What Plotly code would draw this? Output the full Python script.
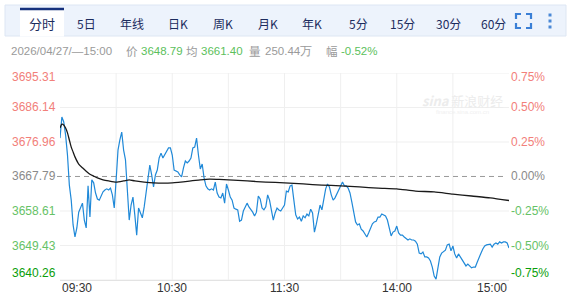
import plotly.graph_objects as go

# ---------------- data ----------------
prev_close = 3667.79
minutes = list(range(241))
price = [
    3678.0, 3683.6, 3682.3, 3678.8, 3673.5, 3665.5, 3661.5, 3654.9, 3651.7, 3654.1,
    3658.3, 3659.7, 3660.7, 3656.2, 3654.1, 3665.3, 3657.0, 3666.9, 3666.1, 3663.4,
    3661.8, 3661.5, 3662.6, 3663.7, 3664.2, 3664.5, 3664.2, 3664.7, 3662.9, 3659.4,
    3666.9, 3674.8, 3677.5, 3679.6, 3674.8, 3672.2, 3664.2, 3656.2, 3660.2, 3662.3,
    3657.5, 3652.2, 3659.4, 3658.3, 3656.8, 3659.7, 3663.4, 3668.2, 3670.8, 3668.2,
    3665.0, 3668.2, 3669.5, 3672.7, 3674.0, 3672.7, 3673.5, 3674.3, 3675.4, 3675.4,
    3673.5, 3669.5, 3669.2, 3669.0, 3668.2, 3667.7, 3670.1, 3671.9, 3671.4, 3671.9,
    3672.7, 3675.4, 3675.6, 3678.0, 3673.5, 3669.8, 3671.1, 3667.4, 3665.3, 3664.5,
    3664.2, 3664.5, 3664.2, 3666.3, 3663.4, 3662.3, 3662.1, 3663.4, 3660.7, 3665.8,
    3664.2, 3662.3, 3661.5, 3659.4, 3659.1, 3658.9, 3655.9, 3656.2, 3658.6, 3659.9,
    3660.7, 3659.7, 3659.1, 3658.3, 3657.3, 3658.3, 3662.6, 3661.8, 3659.4, 3658.9,
    3659.7, 3662.9, 3661.5, 3658.6, 3656.2, 3658.1, 3659.4, 3658.9, 3658.6, 3659.4,
    3660.2, 3663.9, 3663.7, 3665.3, 3665.5, 3661.5, 3657.6, 3656.5, 3657.0, 3655.9,
    3657.3, 3656.8, 3657.8, 3657.3, 3659.1, 3658.1, 3653.0, 3655.1, 3658.3, 3660.2,
    3658.9, 3662.1, 3664.5, 3665.8, 3665.0, 3662.9, 3661.5, 3662.1, 3663.1, 3664.2,
    3665.3, 3666.3, 3665.3, 3665.3, 3664.7, 3663.4, 3661.0, 3658.6, 3655.7, 3654.9,
    3655.2, 3653.8, 3653.3, 3652.5, 3651.7, 3652.8, 3653.8, 3655.2, 3655.7, 3655.9,
    3657.0, 3657.0, 3657.8, 3657.6, 3657.3, 3656.2, 3653.6, 3652.0, 3653.0, 3653.3,
    3654.6, 3652.8, 3652.2, 3652.2, 3651.7, 3651.2, 3650.9, 3651.2, 3650.9, 3650.9,
    3650.6, 3649.8, 3647.4, 3647.2, 3647.7, 3646.4, 3646.4, 3646.1, 3645.3, 3643.7,
    3641.3, 3640.5, 3644.0, 3646.4, 3647.4, 3647.7, 3648.2, 3649.6, 3649.8, 3648.0,
    3649.3, 3647.2, 3646.1, 3647.2, 3646.4, 3645.6, 3644.8, 3644.0, 3644.5, 3644.0,
    3643.5, 3643.7, 3643.7, 3645.0, 3646.4, 3647.4, 3648.5, 3649.3, 3649.6, 3649.8,
    3649.8, 3649.0, 3649.8, 3650.1, 3649.8, 3650.4, 3650.1, 3650.4, 3650.4, 3650.1,
    3648.79,
]
avg_minutes = [0, 1, 2, 3, 4, 5, 6, 7, 8, 10, 12, 14, 16, 18, 20, 23, 26, 30, 34, 37, 40,
               45, 50, 60, 70, 75, 80, 85, 90, 100, 110, 120, 130, 140, 150, 160, 170,
               180, 190, 200, 210, 220, 230, 240]
avg_price = [3680.7, 3681.7, 3681.5, 3680.7, 3679.4, 3677.5, 3675.6, 3674.3, 3673.0,
             3671.1, 3670.1, 3669.2, 3668.4, 3667.9, 3667.4, 3666.9, 3666.6, 3666.3,
             3666.6, 3666.9, 3666.6, 3666.3, 3666.1, 3666.1, 3666.6, 3666.9, 3667.1,
             3667.0, 3666.9, 3666.6, 3666.3, 3666.1, 3665.8, 3665.5, 3665.3, 3665.0,
             3664.7, 3664.5, 3663.9, 3663.7, 3663.1, 3662.6, 3662.1, 3661.4]

y_ticks = [3695.31, 3686.14, 3676.96, 3667.79, 3658.61, 3649.43, 3640.26]
pct_labels = ["0.75%", "0.50%", "0.25%", "0.00%", "-0.25%", "-0.50%", "-0.75%"]
grid_minutes = [30, 60, 90, 120, 150, 180, 210]
time_tick_minutes = [0, 60, 120, 180, 240]
time_labels = ["09:30", "10:30", "11:30", "14:00", "15:00"]
tabs = ["分时", "5日", "年线", "日K", "周K", "月K", "年K", "5分", "15分", "30分", "60分"]
info_parts = ["2026/04/27/—15:00", "价", "3648.79", "均", "3661.40", "量", "250.44万", "幅", "-0.52%"]

# ---------------- layout helpers ----------------
W, H = 571, 295
L, R, T, B = 60, 509, 73, 280


def px(x):
    return (x - L) / (R - L)


def py(y):
    return (B - y) / (B - T)


FONT = "Liberation Sans, Arial, sans-serif"
CJK = "Noto Sans CJK SC, sans-serif"
RED = "#f2807a"
GREEN = "#66c266"
DKGREEN = "#0a9e0a"
GRAY = "#8a8a8a"
label_colors = [RED, RED, RED, GRAY, GREEN, GREEN, DKGREEN]
label_shift = [-4, 0, 0, 0, 0, 0, 7]

fig = go.Figure()
fig.add_trace(go.Scatter(x=minutes, y=price, mode="lines",
                         line=dict(color="#2089d8", width=1.2), hoverinfo="skip"))
fig.add_trace(go.Scatter(x=avg_minutes, y=avg_price, mode="lines",
                         line=dict(color="#1a1a1a", width=1.3, shape="spline", smoothing=0.6),
                         hoverinfo="skip"))

shapes = []
annotations = []

# grid
for v in y_ticks:
    if v == prev_close:
        continue
    shapes.append(dict(type="line", xref="paper", yref="y", x0=0, x1=1, y0=v, y1=v,
                       line=dict(color="#efefef", width=1), layer="below"))
for m in grid_minutes:
    shapes.append(dict(type="line", xref="x", yref="paper", x0=m, x1=m, y0=0, y1=1,
                       line=dict(color="#efefef", width=1), layer="below"))
shapes.append(dict(type="line", xref="paper", yref="y", x0=px(57), x1=px(506),
                   y0=prev_close, y1=prev_close,
                   line=dict(color="#9a9a9a", width=1, dash="5px,4px"), layer="below"))

# y labels
for i, (v, p) in enumerate(zip(y_ticks, pct_labels)):
    annotations.append(dict(xref="paper", yref="y", x=px(58), y=v, text=f"{v:.2f}",
                            xanchor="right", yanchor="middle", showarrow=False,
                            yshift=label_shift[i],
                            font=dict(family=FONT, size=12, color=label_colors[i])))
    annotations.append(dict(xref="paper", yref="y", x=px(509), y=v, text=p,
                            xanchor="left", yanchor="middle", showarrow=False,
                            yshift=label_shift[i],
                            font=dict(family=FONT, size=12, color=label_colors[i])))

# x labels
for m, t in zip(time_tick_minutes, time_labels):
    anchor = "left" if m == 0 else ("right" if m == 240 else "center")
    annotations.append(dict(xref="x", yref="paper", x=m, y=py(288), text=t,
                            xanchor=anchor, yanchor="middle", showarrow=False,
                            font=dict(family=FONT, size=12, color="#333333")))

# watermark
annotations.append(dict(xref="paper", yref="paper", x=px(462), y=py(100),
                        text="<b><i>sina</i></b> 新浪财经", showarrow=False,
                        xanchor="center", yanchor="middle",
                        font=dict(family=CJK, size=13, color="#ececec")))
annotations.append(dict(xref="paper", yref="paper", x=px(462), y=py(112),
                        text="finance.sina.com.cn", showarrow=False,
                        xanchor="center", yanchor="middle",
                        font=dict(family=FONT, size=6, color="#f0f0f0")))

# toolbar
shapes.append(dict(type="rect", xref="paper", yref="paper", x0=px(5), x1=px(566),
                   y0=py(36), y1=py(5), fillcolor="#edf3fc",
                   line=dict(color="#dde6f3", width=1), layer="above"))
shapes.append(dict(type="rect", xref="paper", yref="paper", x0=px(20), x1=px(64),
                   y0=py(36.5), y1=py(8), fillcolor="#ffffff",
                   line=dict(width=0), layer="above"))
shapes.append(dict(type="line", xref="paper", yref="paper", x0=px(20), x1=px(64),
                   y0=py(9), y1=py(9), line=dict(color="#15307c", width=2.5), layer="above"))
tab_centers = [42, 86.5, 132, 178, 223, 268, 312, 358, 402, 448, 493]
for t, c in zip(tabs, tab_centers):
    annotations.append(dict(xref="paper", yref="paper", x=px(c), y=py(23), text=t,
                            xanchor="center", yanchor="middle", showarrow=False,
                            font=dict(family=CJK, size=13 if t == "分时" else 12,
                                      color="#1c2c5e")))
# fullscreen icon
BLUE = "#3a7fd6"
x0, x1, y0, y1, k = 516, 531, 14, 28, 5
for path in [
    [(x0, y0 + k), (x0, y0), (x0 + k, y0)],
    [(x1 - k, y0), (x1, y0), (x1, y0 + k)],
    [(x0, y1 - k), (x0, y1), (x0 + k, y1)],
    [(x1 - k, y1), (x1, y1), (x1, y1 - k)],
]:
    d = "M " + " L ".join(f"{px(a)},{py(b)}" for a, b in path)
    shapes.append(dict(type="path", xref="paper", yref="paper", path=d,
                       line=dict(color=BLUE, width=2.2), layer="above"))
for yy in [15, 21, 27]:
    shapes.append(dict(type="rect", xref="paper", yref="paper", x0=px(548.5), x1=px(551.5),
                       y0=py(yy + 1.5), y1=py(yy - 1.5), fillcolor="#4a88d6",
                       line=dict(width=0), layer="above"))

# info line
info_x = [9, 124, 139, 184, 199, 247, 263, 324, 339]
info_colors = ["#9a9a9a", "#9a9a9a", "#5cbf5c", "#9a9a9a", "#5cbf5c", "#9a9a9a",
               "#9a9a9a", "#9a9a9a", "#5cbf5c"]
for t, x, c in zip(info_parts, info_x, info_colors):
    annotations.append(dict(xref="paper", yref="paper", x=px(x), y=py(51), text=t,
                            xanchor="left", yanchor="middle", showarrow=False,
                            font=dict(family=FONT if t[0].isdigit() or t[0] == "-" else CJK,
                                      size=11.5, color=c)))

fig.update_layout(
    width=W, height=H, autosize=False,
    margin=dict(l=L, r=W - R, t=T, b=H - B, pad=0),
    paper_bgcolor="white", plot_bgcolor="white",
    showlegend=False,
    xaxis=dict(range=[0, 240], showgrid=False, zeroline=False, showticklabels=False,
               ticks="", showline=True, linecolor="#e3e3e3", linewidth=1, fixedrange=True),
    yaxis=dict(range=[y_ticks[-1], y_ticks[0]], showgrid=False, zeroline=False,
               showticklabels=False, ticks="", showline=False, fixedrange=True),
    shapes=shapes,
    annotations=annotations,
    hovermode=False,
)

fig.write_html("out.html", config={"displayModeBar": False})
